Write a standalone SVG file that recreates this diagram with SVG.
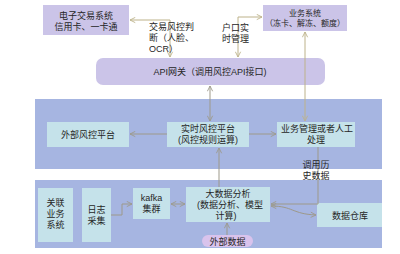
<svg xmlns="http://www.w3.org/2000/svg" width="400" height="254" viewBox="0 0 400 254">
<defs>
<style>
text{font-family:"Liberation Sans","Noto Sans CJK SC",sans-serif;font-size:9px;fill:#262626;text-anchor:middle}
.l{text-anchor:start}
.s{font-size:8px}
.lav{fill:#cbc4e8}
.band{fill:#a6b5e1}
.lb{fill:#c5e2ea}
.c{fill:none;stroke:#bdb28a;stroke-width:1}
.g{fill:none;stroke:#9d998a;stroke-width:1}
</style>
<marker id="a" viewBox="0 0 8 8" refX="7" refY="4" markerWidth="7" markerHeight="7" markerUnits="userSpaceOnUse" orient="auto-start-reverse"><path d="M1,1 L7,4 L1,7" fill="none" stroke="#bdb28a" stroke-width="1"/></marker>
<marker id="b" viewBox="0 0 8 8" refX="7" refY="4" markerWidth="7" markerHeight="7" markerUnits="userSpaceOnUse" orient="auto-start-reverse"><path d="M1,1 L7,4 L1,7" fill="none" stroke="#9d998a" stroke-width="1"/></marker>
</defs>
<rect width="400" height="254" fill="#fff"/>
<g id="bands">
<rect class="band" x="35" y="99" width="347" height="70"/>
<rect class="band" x="35" y="180" width="347" height="68"/>
</g>
<g id="n-ecommerce"><rect class="lav" x="43" y="5" width="86" height="30"/><text x="86" y="18.5">电子交易系统<tspan x="86" dy="11">信用卡、一卡通</tspan></text></g>
<g id="n-biz"><rect class="lav" x="263" y="5" width="84" height="26"/><text class="s" x="305" y="16">业务系统<tspan x="305" dy="10">（冻卡、解冻、额度）</tspan></text></g>
<g id="n-api"><rect class="lav" x="96" y="58" width="229" height="27" rx="7"/><text x="210" y="75">API网关（调用风控API接口)</text></g>
<g id="n-ext-risk"><rect class="lb" x="47" y="122" width="82" height="25"/><text x="88" y="138">外部风控平台</text></g>
<g id="n-realtime"><rect class="lb" x="167" y="122" width="82" height="25"/><text x="208" y="131.5">实时风控平台<tspan x="208" dy="11">(风控规则运算)</tspan></text></g>
<g id="n-bizmgmt"><rect class="lb" x="277" y="122" width="78" height="25"/><text x="317" y="131.5">业务管理或者人工<tspan x="316" dy="11">处理</tspan></text></g>
<g id="n-related"><rect class="lb" x="38" y="188" width="35" height="54"/><text x="55.5" y="205.5">关联<tspan x="55.5" dy="11">业务</tspan><tspan x="55.5" dy="11">系统</tspan></text></g>
<g id="n-log"><rect class="lb" x="82" y="188" width="29" height="54"/><text x="96.5" y="212.5">日志<tspan x="96.5" dy="11">采集</tspan></text></g>
<g id="n-kafka"><rect class="lb" x="133" y="188" width="37" height="31"/><text x="151.5" y="200.5">kafka<tspan x="151.5" dy="11">集群</tspan></text></g>
<g id="n-bigdata"><rect class="lb" x="186" y="187" width="84" height="35"/><text x="228" y="197">大数据分析<tspan x="230" dy="11">(数据分析、模型</tspan><tspan x="226" dy="11">计算)</tspan></text></g>
<g id="n-dw"><rect class="lb" x="317" y="203" width="65" height="24"/><text x="350" y="218.5">数据仓库</text></g>
<g id="n-extdata"><rect x="202" y="235" width="51" height="12" rx="6" fill="#d9c3ec"/><text x="227.5" y="244.5">外部数据</text></g>
<g id="connectors">
<path class="c" d="M170,57 V20 H130" marker-start="url(#a)" marker-end="url(#a)"/>
<path class="c" d="M238,57 V17 H262" marker-start="url(#a)" marker-end="url(#a)"/>
<path class="c" d="M305,32 V121" marker-start="url(#a)" marker-end="url(#a)"/>
<path class="g" d="M210,86 V121" marker-start="url(#b)" marker-end="url(#b)"/>
<path class="g" d="M167,134 H130" marker-end="url(#b)"/>
<path class="g" d="M249,134 H276" marker-end="url(#b)"/>
<path class="g" d="M219,187 V148" marker-end="url(#b)"/>
<path class="g" d="M318,147 V204 H271" marker-end="url(#b)"/>
<path class="g" d="M271,206 C293,206 292,214 316,215" marker-start="url(#b)" marker-end="url(#b)"/>
<path class="g" d="M111,215 H122 V204 H132" marker-end="url(#b)"/>
<path class="g" d="M171,204 H185" marker-start="url(#b)" marker-end="url(#b)"/>
<path class="g" d="M227,235 V223" marker-end="url(#b)"/>
<text class="l" x="149" y="30">交易风控判<tspan x="149" dy="11">断（人脸、</tspan><tspan x="149" dy="11">OCR）</tspan></text>
<text class="l" x="222" y="31">户口实<tspan x="222" dy="11">时管理</tspan></text>
<text x="316" y="167.5">调用历<tspan x="316" dy="11">史数据</tspan></text>
</g>
</svg>
